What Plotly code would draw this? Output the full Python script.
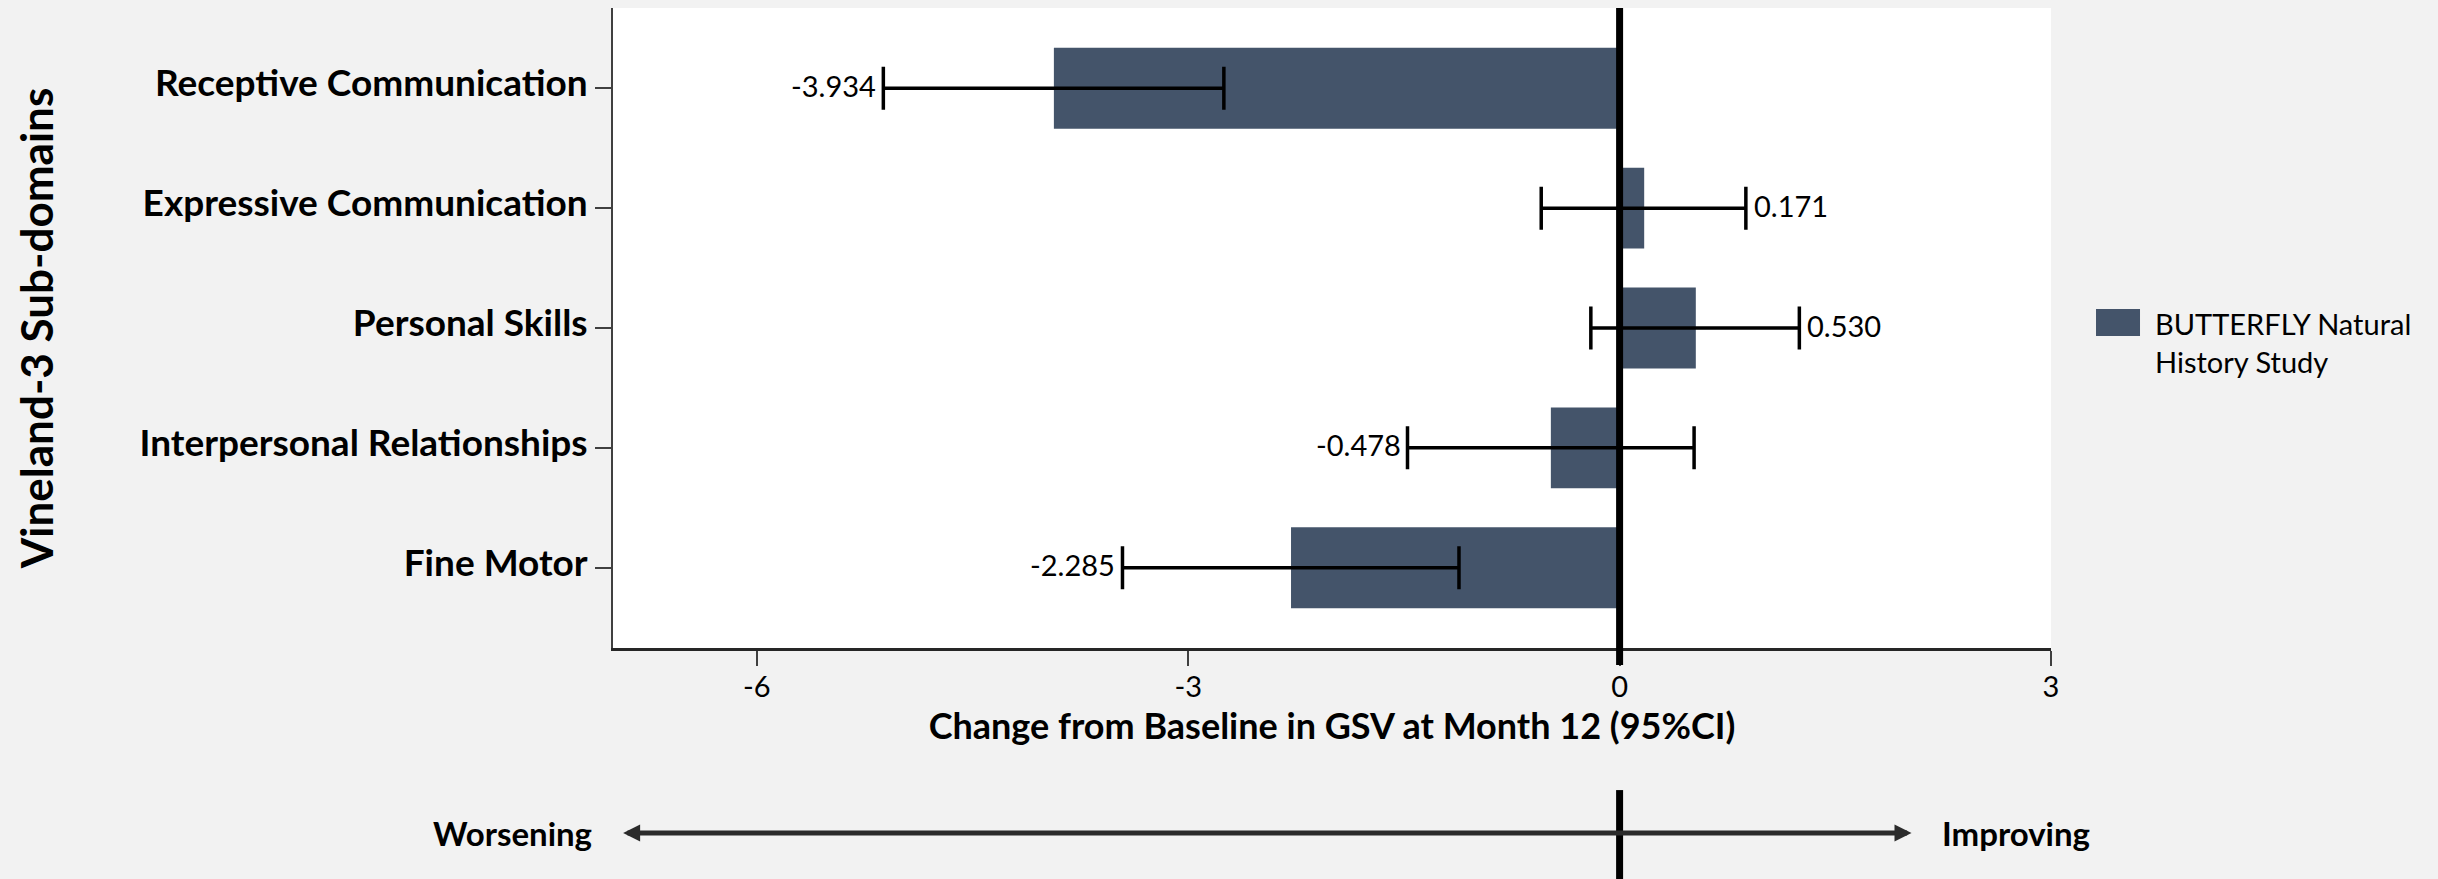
import plotly.graph_objects as go

# ---------------- data ----------------
categories = ["Receptive Communication", "Expressive Communication", "Personal Skills",
              "Interpersonal Relationships", "Fine Motor"]
values = [-3.934, 0.171, 0.530, -0.478, -2.285]
ci_lower = [-5.12, -0.545, -0.20, -1.475, -3.457]
ci_upper = [-2.752, 0.878, 1.250, 0.518, -1.117]
value_labels = ["-3.934", "0.171", "0.530", "-0.478", "-2.285"]
x_ticks = [-6, -3, 0, 3]
x_range = [-7, 3]
arrow_span = [-6.94, 2.03]
series_name = "BUTTERFLY Natural<br>History Study"
x_title = "Change from Baseline in GSV at Month 12 (95%CI)"
y_title = "Vineland-3 Sub-domains"

BAR_COLOR = "#44546A"
FONT = "Lato"

err_plus = [u - v for u, v in zip(ci_upper, values)]
err_minus = [v - l for v, l in zip(values, ci_lower)]

fig = go.Figure()
fig.add_trace(go.Bar(
    y=categories, x=values, orientation="h", width=0.675,
    marker=dict(color=BAR_COLOR, line=dict(width=0)),
    name=series_name, showlegend=False,
    error_x=dict(type="data", symmetric=False, array=err_plus, arrayminus=err_minus,
                 color="black", thickness=3.5, width=21.5),
))

annotations = []
for cat, v, lo, hi, lab in zip(categories, values, ci_lower, ci_upper, value_labels):
    if v < 0:
        annotations.append(dict(x=lo, y=cat, xref="x", yref="y", text=lab, showarrow=False,
                                xanchor="right", yanchor="middle", xshift=-5, yshift=3,
                                font=dict(family=FONT, size=29, color="black")))
    else:
        annotations.append(dict(x=hi, y=cat, xref="x", yref="y", text=lab, showarrow=False,
                                xanchor="left", yanchor="middle", xshift=6, yshift=3,
                                font=dict(family=FONT, size=29, color="black")))

# legend (custom swatch + text)
annotations.append(dict(x=1.0709, y=0.477, xref="paper", yref="paper", text=series_name,
                        showarrow=False, xanchor="left", yanchor="middle", align="left",
                        font=dict(family=FONT, size=29, color="black")))

# worsening / improving arrow
annotations.append(dict(x=arrow_span[1], y=-0.289, xref="x", yref="paper",
                        ax=arrow_span[0], ay=0, axref="x", ayref="pixel",
                        text="", showarrow=True, arrowhead=2, startarrowhead=2,
                        arrowside="end+start", arrowsize=0.68, startarrowsize=0.68,
                        arrowwidth=5, arrowcolor="#2b2b2b", standoff=0, startstandoff=0))
annotations.append(dict(x=arrow_span[0], y=-0.289, xref="x", yref="paper", text="<b>Worsening</b>",
                        showarrow=False, xanchor="right", yanchor="middle", xshift=-28,
                        font=dict(family=FONT, size=33, color="black")))
annotations.append(dict(x=arrow_span[1], y=-0.289, xref="x", yref="paper", text="<b>Improving</b>",
                        showarrow=False, xanchor="left", yanchor="middle", xshift=28,
                        font=dict(family=FONT, size=33, color="black")))

shapes = [
    dict(type="rect", xref="paper", yref="paper", x0=1.0313, x1=1.0619, y0=0.4875, y1=0.5297,
         fillcolor=BAR_COLOR, line=dict(width=0)),
    dict(type="line", xref="x", yref="paper", x0=0, x1=0, y0=1.0, y1=-0.0266,
         line=dict(color="black", width=7), layer="above"),
    dict(type="line", xref="x", yref="paper", x0=0, x1=0, y0=-0.222, y1=-0.40,
         line=dict(color="black", width=7), layer="above"),
]

fig.update_layout(
    width=2438, height=879,
    margin=dict(l=613, r=387, t=8, b=231, autoexpand=False),
    paper_bgcolor="#F2F2F2", plot_bgcolor="white",
    font=dict(family=FONT, color="black"),
    annotations=annotations, shapes=shapes,
    showlegend=False,
    xaxis=dict(range=x_range, tickvals=x_ticks, ticktext=[str(t) for t in x_ticks],
               ticks="outside", ticklen=15, tickwidth=1.5, tickcolor="#404040",
               ticklabelstandoff=-4,
               showline=True, linecolor="#262626", linewidth=2.5, showgrid=False, zeroline=False,
               tickfont=dict(family=FONT, size=29, color="black"),
               title=dict(text=x_title, standoff=8,
                          font=dict(family=FONT, size=36, color="black", weight="bold"))),
    yaxis=dict(type="category", categoryorder="array", categoryarray=categories,
               range=[4.67, -0.67], ticks="outside", ticklen=16, tickwidth=1.5, tickcolor="#404040",
               ticklabelshift=5,
               showline=True, linecolor="#404040", linewidth=2, showgrid=False, zeroline=False,
               tickfont=dict(family=FONT, size=37, color="black", weight="bold"),
               title=dict(text=y_title, standoff=72,
                          font=dict(family=FONT, size=44, color="black", weight="bold"))),
)

fig.write_html("out.html", config={"displayModeBar": False},
               post_script="document.body.style.margin='0';document.body.style.background='#F2F2F2';")
